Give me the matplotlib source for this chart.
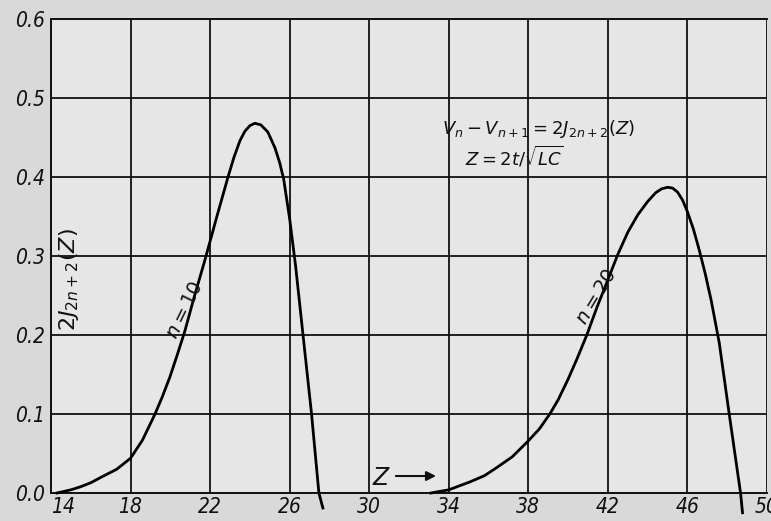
import matplotlib
matplotlib.use("Agg")
import matplotlib.pyplot as plt

# Curve for n = 10  (2 J_22(Z))
z_n10 = [14.3, 15.0, 15.5, 16.0, 16.6, 17.3, 18.0, 18.6, 19.23, 19.6, 19.98,
         20.35, 20.73, 21.2, 21.74, 22.34, 22.9, 23.2, 23.5, 23.75, 24.0, 24.25,
         24.55, 24.9, 25.26, 25.5, 25.7, 26.0, 26.3, 26.65, 27.1, 27.47, 27.67]
v_n10 = [0.0, 0.004, 0.008, 0.013, 0.021, 0.030, 0.044, 0.067, 0.10, 0.122, 0.147,
         0.175, 0.205, 0.248, 0.295, 0.350, 0.400, 0.425, 0.446, 0.458, 0.465, 0.468,
         0.466, 0.457, 0.437, 0.418, 0.397, 0.347, 0.287, 0.205, 0.10, 0.0, -0.019]

# Curve for n = 20  (2 J_42(Z))
z_n20 = [33.1, 34.0, 35.06, 35.8, 36.46, 37.2, 38.0, 38.55, 39.08, 39.5, 39.98,
         40.45, 40.94, 41.45, 42.0, 42.5, 43.0, 43.5, 44.0, 44.4, 44.7, 45.0, 45.25,
         45.5, 45.75, 46.0, 46.3, 46.6, 46.9, 47.2, 47.6, 48.1, 48.67, 48.77]
v_n20 = [0.0, 0.004, 0.014, 0.022, 0.033, 0.046, 0.066, 0.081, 0.10, 0.118, 0.143,
         0.170, 0.20, 0.235, 0.27, 0.302, 0.330, 0.352, 0.369, 0.380, 0.385, 0.387,
         0.386, 0.381, 0.371, 0.356, 0.334, 0.307, 0.277, 0.243, 0.19, 0.10, 0.0,
         -0.025]

x_ticks = [14, 18, 22, 26, 30, 34, 38, 42, 46, 50]
y_ticks = [0.0, 0.1, 0.2, 0.3, 0.4, 0.5, 0.6]
y_tick_labels = ["0.0", "0.1", "0.2", "0.3", "0.4", "0.5", "0.6"]

plt.rcParams['font.family'] = ['DejaVu Sans']
plt.rcParams['mathtext.fontset'] = 'dejavusans'

ink = '#111111'
fig = plt.figure(figsize=(7.71, 5.21), dpi=100, facecolor='#d9d9d9')
ax = fig.add_axes([51/771, 1-493/521, (767-51)/771, (493-19)/521])
ax.set_facecolor('#e6e6e6')

ax.set_xlim(14, 50)
ax.set_ylim(0, 0.6)
ax.set_xticks(x_ticks)
ax.set_yticks(y_ticks)
ax.set_xticklabels([str(t) for t in x_ticks], fontsize=15, style='italic',
                   fontstretch='condensed', color=ink)
ax.set_yticklabels(y_tick_labels, fontsize=15, style='italic',
                   fontstretch='condensed', color=ink)
ax.tick_params(axis='y', length=0, pad=4)
ax.tick_params(axis='x', length=0, pad=3)
ax.get_xticklabels()[0].set_horizontalalignment('left')
ax.grid(True, color=ink, linewidth=1.3)
ax.set_axisbelow(True)
for s in ['top', 'left', 'bottom']:
    ax.spines[s].set_color(ink)
    ax.spines[s].set_linewidth(1.4)
ax.spines['right'].set_visible(False)

ax.plot(z_n10, v_n10, color='black', linewidth=2, clip_on=False, zorder=3,
        solid_joinstyle='round')
ax.plot(z_n20, v_n20, color='black', linewidth=2, clip_on=False, zorder=3,
        solid_joinstyle='round')

ax.text(38.5, 0.461, r"$V_n - V_{n+1} = 2J_{2n+2}(Z)$", fontsize=13,
        ha='center', va='center', color=ink)
ax.text(37.3, 0.426, r"$Z = 2t/\sqrt{LC}$", fontsize=13,
        ha='center', va='center', color=ink)
ax.text(14.9, 0.27, r"$2J_{2n+2}(Z)$", fontsize=16, rotation=90,
        ha='center', va='center', color=ink)
ax.text(20.75, 0.232, r"$n=10$", fontsize=14, rotation=64,
        ha='center', va='center', color=ink)
ax.text(41.4, 0.249, r"$n=20$", fontsize=14, rotation=59,
        ha='center', va='center', color=ink)
ax.text(30.6, 0.019, r"$Z$", fontsize=17, ha='center', va='center',
        color=ink)
ax.annotate("", xy=(33.5, 0.0215), xytext=(31.2, 0.0215),
            arrowprops=dict(arrowstyle='-|>', color=ink, lw=1.5,
                            mutation_scale=14))

fig.savefig("out.png", dpi=100, facecolor=fig.get_facecolor())
